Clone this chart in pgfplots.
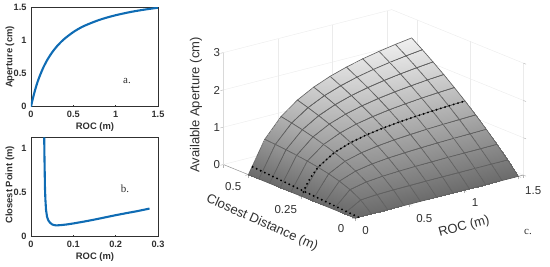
\documentclass[border=0pt]{standalone}
\usepackage{pgfplots}
\pgfplotsset{compat=1.18}
\usepackage{fontspec}
\setmainfont{Liberation Sans}
\newfontfamily\serifc{Liberation Serif}
\definecolor{mblue}{HTML}{0F6CB4}
\definecolor{axc}{HTML}{303030}
\newcommand{\fs}[1]{\fontsize{#1}{#1}\selectfont}
\pgfplotsset{
  small2d/.style={
    scale only axis, width=127pt, height=99pt,
    /pgf/number format/assume math mode=true,
    tick label style={font=\fs{9.2}\bfseries, text=axc},
    axis line style={draw=axc, line width=0.9pt},
    tick style={draw=axc, line width=0.6pt},
    major tick length=1.5pt, tick align=inside, tick pos=lower,
    xticklabel style={yshift=-1pt},
    yticklabel style={xshift=-1pt},
    clip=true,
    /pgf/number format/fixed,
    xtick pos=lower, ytick pos=left,
    axis on top=false
  }
}
\begin{document}
\begin{tikzpicture}[x=1pt,y=1pt]
\path[use as bounding box] (0,0) rectangle (550,266);
\begin{axis}[small2d, at={(31pt,159.3pt)}, anchor=south west,
  xmin=0,xmax=1.5,ymin=0,ymax=1.5,
  xtick={0,0.5,1,1.5}, ytick={0,0.5,1,1.5},
  xticklabels={0,0.5,1,1.5}, yticklabels={0,0.5,1,1.5}]
\addplot[mblue, line width=2.1pt, smooth] coordinates {
(0,0)(0.01,0.059)(0.025,0.14)(0.05,0.26)(0.075,0.365)(0.1,0.455)(0.15,0.606)(0.2,0.726)(0.25,0.824)(0.3,0.906)(0.35,0.975)(0.4,1.034)(0.5,1.131)(0.6,1.207)(0.7,1.263)(0.8,1.312)(0.9,1.352)(1,1.386)(1.1,1.415)(1.2,1.441)(1.3,1.463)(1.4,1.482)(1.5,1.5)};
\end{axis}
\begin{axis}[small2d, at={(31pt,29.7pt)}, anchor=south west,
  xmin=0,xmax=0.3,ymin=0,ymax=1.125,
  xtick={0,0.1,0.2,0.3}, ytick={0,0.5,1},
  xticklabels={0,0.1,0.2,0.3}, yticklabels={0,0.5,1}]
\addplot[mblue, line width=2.1pt] coordinates {
(0.0312,1.125)(0.0318,0.9)(0.0325,0.7)(0.033,0.55)(0.034,0.42)(0.0355,0.3)(0.038,0.22)(0.041,0.18)(0.045,0.155)(0.05,0.135)(0.055,0.127)(0.06,0.124)(0.07,0.127)(0.085,0.135)(0.1,0.146)(0.125,0.167)(0.15,0.19)(0.175,0.215)(0.2,0.24)(0.225,0.263)(0.25,0.285)(0.28,0.315)};
\end{axis}
\node[font=\fs{9.4}\bfseries, text=axc] at (95,138.5) {ROC (m)};
\node[font=\fs{9.4}\bfseries, text=axc] at (95,8.5) {ROC (m)};
\node[font=\fs{9.4}\bfseries, text=axc, rotate=90] at (10,209) {Aperture (cm)};
\node[font=\fs{9.4}\bfseries, text=axc, rotate=90] at (10,81) {Closest Point (m)};
\node[font=\serifc\fs{11}, text=axc] at (127,185) {a.};
\node[font=\serifc\fs{11}, text=axc] at (125,77) {b.};
\begin{axis}[at={(355pt,48pt)}, anchor=origin,
  x={(108.9pt,27.8pt)}, y={(-213.3pt,86.7pt)}, z={(0pt,37.3pt)},
  xmin=0,xmax=1.546,ymin=0,ymax=0.617,zmin=0,zmax=3,
  xtick={0,0.5,1,1.5}, ytick={0,0.25,0.5}, ztick={0,1,2,3},
  xticklabels={\hspace{-6pt}0,0.5,\hspace{-5pt}1,1.5\hspace{-8pt}},
  yticklabels={0,0.25\hspace{12pt},0.5\hspace{3pt}}, zticklabels={0,1,2,3},
  /pgf/number format/assume math mode=true,
  tick label style={font=\fs{11.5}, text=axc},
  xticklabel style={xshift=6pt,yshift=-4pt},
  yticklabel style={xshift=-5pt,yshift=-2pt},
  zticklabel style={xshift=3pt,yshift=-2pt},
  xtick pos=lower, ytick pos=lower, ztick pos=left,
  grid=major, major grid style={draw=black!8, line width=0.4pt},
  axis line style={draw=none},
  tick style={draw=black!30, line width=0.4pt},
  major tick length=3pt, tick align=outside,
  clip=false,
  colormap={gg}{gray(0cm)=(0.42); gray(1cm)=(0.95)},
  point meta min=0, point meta max=2.6
]
\draw[black!40, line width=0.5pt] (axis cs:0,0,0) -- (axis cs:1.546,0,0);
\draw[black!40, line width=0.5pt] (axis cs:0,0,0) -- (axis cs:0,0.617,0);
\draw[black!15, line width=0.4pt] (axis cs:0,0.617,0) -- (axis cs:0,0.617,3);
\addplot3[surf, shader=faceted interp, faceted color=black!62, line width=0.65pt,
  mesh/rows=11, mesh/cols=11] table {
0 0 0
0.15 0 0
0.3 0 0
0.45 0 0
0.6 0 0
0.75 0 0
0.9 0 0
1.05 0 0
1.2 0 0
1.35 0 0
1.5 0 0

0 0.05 0
0.15 0.05 .255
0.3 0.05 .288
0.45 0.05 .300
0.6 0.05 .307
0.75 0.05 .312
0.9 0.05 .315
1.05 0.05 .317
1.2 0.05 .318
1.35 0.05 .320
1.5 0.05 .321

0 0.1 0
0.15 0.1 .415
0.3 0.1 .510
0.45 0.1 .552
0.6 0.1 .575
0.75 0.1 .590
0.9 0.1 .601
1.05 0.1 .609
1.2 0.1 .615
1.35 0.1 .619
1.5 0.1 .623

0 0.15 0
0.15 0.15 .525
0.3 0.15 .686
0.45 0.15 .765
0.6 0.15 .811
0.75 0.15 .841
0.9 0.15 .863
1.05 0.15 .879
1.2 0.15 .891
1.35 0.15 .901
1.5 0.15 .910

0 0.2 0
0.15 0.2 .606
0.3 0.2 .830
0.45 0.2 .947
0.6 0.2 1.019
0.75 0.2 1.068
0.9 0.2 1.103
1.05 0.2 1.130
1.2 0.2 1.150
1.35 0.2 1.167
1.5 0.2 1.181

0 0.25 0
0.15 0.25 .667
0.3 0.25 .950
0.45 0.25 1.106
0.6 0.25 1.206
0.75 0.25 1.274
0.9 0.25 1.325
1.05 0.25 1.363
1.2 0.25 1.393
1.35 0.25 1.418
1.5 0.25 1.438

0 0.3 0
0.15 0.3 .715
0.3 0.3 1.050
0.45 0.3 1.245
0.6 0.3 1.373
0.75 0.3 1.462
0.9 0.3 1.529
1.05 0.3 1.580
1.2 0.3 1.621
1.35 0.3 1.655
1.5 0.3 1.682

0 0.35 0
0.15 0.35 .754
0.3 0.35 1.137
0.45 0.35 1.368
0.6 0.35 1.524
0.75 0.35 1.635
0.9 0.35 1.719
1.05 0.35 1.784
1.2 0.35 1.836
1.35 0.35 1.879
1.5 0.35 1.915

0 0.4 0
0.15 0.4 .786
0.3 0.4 1.211
0.45 0.4 1.478
0.6 0.4 1.660
0.75 0.4 1.794
0.9 0.4 1.895
1.05 0.4 1.974
1.2 0.4 2.039
1.35 0.4 2.092
1.5 0.4 2.136

0 0.45 0
0.15 0.45 .813
0.3 0.45 1.276
0.45 0.45 1.576
0.6 0.45 1.785
0.75 0.45 1.940
0.9 0.45 2.059
1.05 0.45 2.153
1.2 0.45 2.230
1.35 0.45 2.294
1.5 0.45 2.347

0 0.5 0
0.15 0.5 .835
0.3 0.5 1.333
0.45 0.5 1.664
0.6 0.5 1.899
0.75 0.5 2.076
0.9 0.5 2.212
1.05 0.5 2.322
1.2 0.5 2.411
1.35 0.5 2.486
1.5 0.5 2.548
};
\addplot3[black, line width=2.1pt, line cap=round, dash pattern=on 0pt off 4.5pt] coordinates {
(0.015,0.25,0.105)(0.0375,0.25,0.239)(0.075,0.25,0.418)(0.15,0.25,0.667)(0.3,0.25,0.950)(0.45,0.25,1.106)(0.6,0.25,1.206)(0.75,0.25,1.274)(0.9,0.25,1.325)(1.05,0.25,1.363)(1.2,0.25,1.393)(1.35,0.25,1.418)(1.5,0.25,1.438)};
\addplot3[black, line width=2.1pt, line cap=round, dash pattern=on 0pt off 4.5pt] coordinates {
(0.03,0,0)(0.03,0.1,0.04)(0.03,0.2,0.08)(0.03,0.3,0.12)(0.03,0.4,0.16)(0.03,0.5,0.2)};
\end{axis}
\node[font=\fs{13}, text=axc, rotate=90] at (196,161) {Available Aperture (cm)};
\node[font=\fs{13}, text=axc, rotate=-24] at (262,43) {Closest Distance (m)};
\node[font=\fs{13}, text=axc, rotate=15] at (464,39) {ROC (m)};
\node[font=\serifc\fs{11}, text=axc] at (528,34) {c.};
\end{tikzpicture}
\end{document}
